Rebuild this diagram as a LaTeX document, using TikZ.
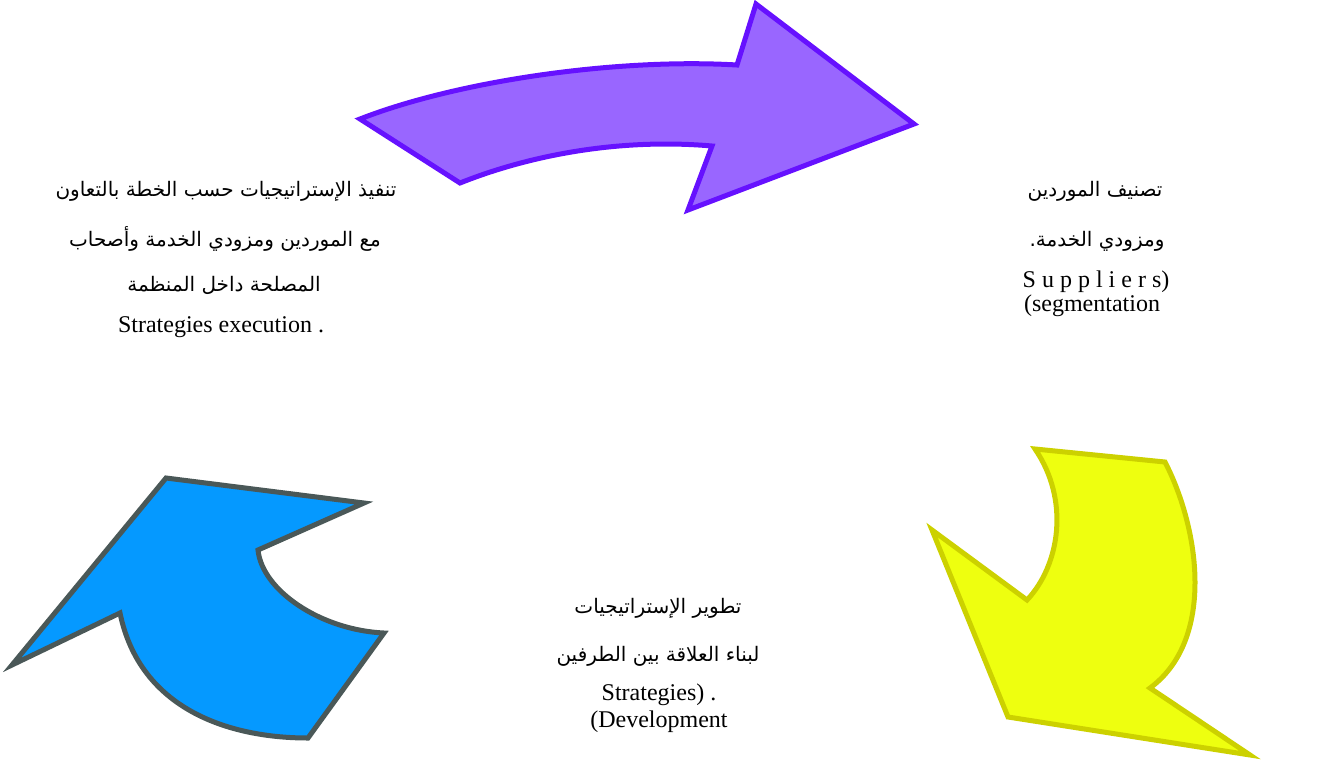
\documentclass[tikz,border=0pt]{standalone}
\usepackage{fontspec}
\setmainfont{Liberation Serif}
\newfontfamily\arabicfont[Script=Arabic]{DejaVu Sans}
\TeXXeTstate=1
\definecolor{violetfill}{HTML}{9966FF}
\definecolor{violetline}{HTML}{6611FF}
\definecolor{yellowfill}{HTML}{EEFF0F}
\definecolor{yellowline}{HTML}{CCD100}
\definecolor{bluefill}{HTML}{0599FF}
\definecolor{blueline}{HTML}{4A5858}
\tikzset{
  arrowshape/.style={line width=5pt, line join=miter, miter limit=10},
  ar/.style={font=\arabicfont\fontsize{20}{24}\selectfont, inner sep=0pt, anchor=base},
  la/.style={font=\fontsize{24}{28}\selectfont, inner sep=0pt, anchor=base},
}
\begin{document}
\begin{tikzpicture}[x=1pt,y=-1pt]
\useasboundingbox (0,0) rectangle (1317,763);

% curved arrow across the top
\draw[arrowshape, fill=violetfill, draw=violetline]
  (360,119) .. controls (460,80) and (620,58) .. (737,65)
  -- (756,4) -- (914,124) -- (688,210) -- (712,146)
  .. controls (620,138) and (530,155) .. (460,183) -- cycle;

% curved arrow on the right, pointing down
\draw[arrowshape, fill=yellowfill, draw=yellowline]
  (1035,449) -- (1165,462)
  .. controls (1200,530) and (1215,640) .. (1150,688)
  -- (1250,755) -- (1008,717) -- (932,530) -- (1027,600)
  .. controls (1060,565) and (1070,500) .. cycle;

% curved arrow on the left, pointing up
\draw[arrowshape, fill=bluefill, draw=blueline]
  (166,478) -- (364,503) -- (258,550)
  .. controls (262,590) and (320,630) .. (384,633)
  -- (308,738)
  .. controls (230,738) and (140,710) .. (120,613)
  -- (12,665) -- cycle;

% labels
\node[ar] (exec1) at (226,196) {\beginR تنفيذ الإستراتيجيات حسب الخطة بالتعاون\endR};
\node[ar] (exec2) at (225,246) {\beginR مع الموردين ومزودي الخدمة وأصحاب\endR};
\node[ar] (exec3) at (224,291) {\beginR المصلحة داخل المنظمة\endR};
\node[la] (exec4) at (221,332) {Strategies execution .};

\node[ar] (seg1) at (1095,196) {\beginR تصنيف الموردين\endR};
\node[ar] (seg2) at (1097,246) {\beginR ومزودي الخدمة.\endR};
\node[la] (seg3) at (1096,287) {S u p p l i e r s)};
\node[la] (seg4) at (1092,311) {(segmentation};

\node[ar] (dev1) at (658,613) {\beginR تطوير الإستراتيجيات\endR};
\node[ar] (dev2) at (658,661) {\beginR لبناء العلاقة بين الطرفين\endR};
\node[la] (dev3) at (659,700) {Strategies) .};
\node[la] (dev4) at (659,727) {(Development};
\end{tikzpicture}
\end{document}
